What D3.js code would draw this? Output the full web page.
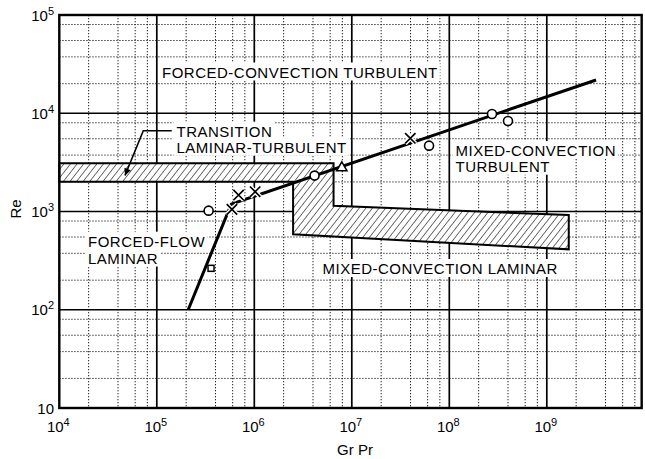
<!DOCTYPE html>
<html>
<head>
<meta charset="utf-8">
<script src="https://cdn.jsdelivr.net/npm/d3@7"></script>
<style>
  html, body { margin: 0; padding: 0; background: #fff; }
  svg { display: block; }
  text { font-family: "Liberation Sans", Arial, Helvetica, sans-serif; fill: #000; }
</style>
</head>
<body>
<svg id="chart" width="645" height="459"></svg>
<script>
// Flow-regime map for vertical tubes: Re versus Gr·Pr

// Axis decades and tick labels
const xDecades = [1e4, 1e5, 1e6, 1e7, 1e8, 1e9];
const xExponents = ["4", "5", "6", "7", "8", "9"];
const yDecades = [1e5, 1e4, 1e3, 1e2, 1e1];
const yExponents = ["5", "4", "3", "2", ""];
const xMinorSteps = [2, 4, 6, 8];
const yMinorSteps = [2, 3.75, 5.5, 8];

// Regime boundary line (Gr·Pr, Re)
const boundaryGrPr = [2.1e5, 5.8e5, 3.2e9];
const boundaryRe = [100, 1190, 21800];

// Experimental points
const circleGrPr = [3.4e5, 4.15e6, 6.2e7, 2.74e8, 4.0e8];
const circleRe = [1020, 2320, 4680, 9820, 8340];
const crossGrPr = [5.9e5, 6.9e5, 1.02e6, 3.98e7];
const crossRe = [1050, 1470, 1590, 5560];
const triangleGrPr = [7.9e6];
const triangleRe = [2820];
const squareGrPr = [3.6e5];
const squareRe = [264];

// Hatched zones: laminar–turbulent transition band joined to the mixed-convection laminar zone
const hatchGrPr = [1e4, 6.5e6, 6.5e6, 1.68e9, 1.68e9, 2.5e6, 2.5e6, 1e4];
const hatchRe = [3100, 3100, 1146, 920, 412, 586, 2010, 2010];

const svg = d3.select("#chart");

const x = d3.scaleLog().domain([1e4, 1e10]).range([59.3, 644.3]);
const y = d3.scaleLog().domain([10, 1e5]).range([408, 15]);
const xEnd = 9.4e9;

const plotLeft = x(1e4), plotRight = x(xEnd), plotTop = y(1e5), plotBottom = y(10);

// Hatch pattern and arrowhead
const defs = svg.append("defs");
defs.append("pattern")
  .attr("id", "hatch")
  .attr("patternUnits", "userSpaceOnUse")
  .attr("width", 5.2).attr("height", 5.2)
  .attr("patternTransform", "rotate(38)")
  .append("line")
  .attr("x1", 0).attr("y1", -1).attr("x2", 0).attr("y2", 7)
  .attr("stroke", "#000").attr("stroke-width", 1.1);

defs.append("marker")
  .attr("id", "arrowhead")
  .attr("viewBox", "0 0 10 10")
  .attr("refX", 10).attr("refY", 5)
  .attr("markerWidth", 11).attr("markerHeight", 7)
  .attr("markerUnits", "userSpaceOnUse")
  .attr("orient", "auto")
  .append("path")
  .attr("d", "M0,0 L10,5 L0,10 Z")
  .attr("fill", "#000");

// Minor grid (dotted)
const grid = svg.append("g");
const xMinor = [];
xDecades.forEach(d => xMinorSteps.forEach(s => { if (d * s < xEnd) xMinor.push(d * s); }));
const yMinor = [];
yDecades.slice(1).forEach(d => yMinorSteps.forEach(s => yMinor.push(d * s)));

grid.selectAll("line.xminor").data(xMinor).join("line")
  .attr("class", "xminor")
  .attr("x1", d => x(d)).attr("x2", d => x(d))
  .attr("y1", plotTop).attr("y2", plotBottom)
  .attr("stroke", "#222").attr("stroke-width", 1)
  .attr("stroke-dasharray", "1.3,1.7");
grid.selectAll("line.yminor").data(yMinor).join("line")
  .attr("class", "yminor")
  .attr("x1", plotLeft).attr("x2", plotRight)
  .attr("y1", d => y(d)).attr("y2", d => y(d))
  .attr("stroke", "#222").attr("stroke-width", 1)
  .attr("stroke-dasharray", "1.3,1.7");

// Major grid (solid)
grid.selectAll("line.xmajor").data(xDecades.slice(1)).join("line")
  .attr("class", "xmajor")
  .attr("x1", d => x(d)).attr("x2", d => x(d))
  .attr("y1", plotTop).attr("y2", plotBottom)
  .attr("stroke", "#000").attr("stroke-width", 1.7);
grid.selectAll("line.ymajor").data(yDecades.slice(1, 4)).join("line")
  .attr("class", "ymajor")
  .attr("x1", plotLeft).attr("x2", plotRight)
  .attr("y1", d => y(d)).attr("y2", d => y(d))
  .attr("stroke", "#000").attr("stroke-width", 1.7);

// Regime annotations sit on white boxes that mask the grid behind them
const ann = svg.append("g").attr("font-size", 15).attr("letter-spacing", 0.5);
[
  [162, 77.5, "FORCED-CONVECTION TURBULENT"],
  [176.5, 136.7, "TRANSITION"],
  [176.5, 152.7, "LAMINAR-TURBULENT"],
  [455.5, 156, "MIXED-CONVECTION"],
  [455.5, 171.7, "TURBULENT"],
  [88, 246.7, "FORCED-FLOW"],
  [88, 263.5, "LAMINAR"],
  [322.5, 274, "MIXED-CONVECTION LAMINAR"]
].forEach(([tx, ty, s]) => {
  const t = ann.append("text").attr("x", tx).attr("y", ty).text(s);
  const b = t.node().getBBox();
  ann.insert("rect", "text")
    .attr("x", b.x - 3).attr("y", b.y - 1)
    .attr("width", b.width + 5).attr("height", b.height + 1)
    .attr("fill", "#fff");
});

// Hatched regime zones
const hatchPts = hatchGrPr.map((g, i) => [x(g), y(hatchRe[i])]);
svg.append("path")
  .attr("d", d3.line()(hatchPts) + "Z")
  .attr("fill", "#fff");
svg.append("path")
  .attr("d", d3.line()(hatchPts) + "Z")
  .attr("fill", "url(#hatch)")
  .attr("stroke", "#000").attr("stroke-width", 2)
  .attr("stroke-linejoin", "miter");

// Frame
svg.append("rect")
  .attr("x", plotLeft).attr("y", plotTop)
  .attr("width", plotRight - plotLeft).attr("height", plotBottom - plotTop)
  .attr("fill", "none").attr("stroke", "#000").attr("stroke-width", 2.4);

// Axis tick labels
const xl = svg.append("g").attr("font-size", 15);
xDecades.forEach((d, i) => {
  const t = xl.append("text").attr("x", x(d) - 1).attr("y", 432).attr("text-anchor", "middle");
  t.append("tspan").text("10");
  t.append("tspan").attr("dy", -6).attr("font-size", 11).text(xExponents[i]);
});
const yl = svg.append("g").attr("font-size", 15);
yDecades.forEach((d, i) => {
  const t = yl.append("text").attr("x", 54).attr("y", y(d) + 5.5).attr("text-anchor", "end");
  t.append("tspan").text("10");
  if (yExponents[i]) t.append("tspan").attr("dy", -6).attr("font-size", 11).text(yExponents[i]);
});

svg.append("text").attr("x", 355).attr("y", 455).attr("text-anchor", "middle")
  .attr("font-size", 15).text("Gr Pr");
svg.append("text")
  .attr("transform", "translate(21,209) rotate(-90)")
  .attr("text-anchor", "middle").attr("font-size", 15).text("Re");

// Regime boundary
svg.append("path")
  .attr("d", d3.line().x((d, i) => x(boundaryGrPr[i])).y((d, i) => y(boundaryRe[i]))(boundaryGrPr))
  .attr("fill", "none").attr("stroke", "#000").attr("stroke-width", 3)
  .attr("stroke-linejoin", "miter");

// Data markers
const pts = svg.append("g");
pts.selectAll("circle").data(circleGrPr).join("circle")
  .attr("cx", d => x(d)).attr("cy", (d, i) => y(circleRe[i]))
  .attr("r", 4.5).attr("fill", "#fff").attr("stroke", "#000").attr("stroke-width", 1.6);

const crossPath = s => `M${-s},${-s}L${s},${s}M${-s},${s}L${s},${-s}`;
const crosses = pts.selectAll("g.cross").data(crossGrPr).join("g")
  .attr("class", "cross")
  .attr("transform", (d, i) => `translate(${x(d)},${y(crossRe[i])})`);
crosses.append("path").attr("d", crossPath(5.2)).attr("stroke", "#fff").attr("stroke-width", 4.5);
crosses.append("path").attr("d", crossPath(5.2)).attr("stroke", "#000").attr("stroke-width", 1.7);

pts.selectAll("path.tri").data(triangleGrPr).join("path")
  .attr("class", "tri")
  .attr("d", "M0,-5.5L5.2,3.6L-5.2,3.6Z")
  .attr("transform", (d, i) => `translate(${x(d)},${y(triangleRe[i])})`)
  .attr("fill", "#fff").attr("stroke", "#000").attr("stroke-width", 1.5);

pts.selectAll("rect.sq").data(squareGrPr).join("rect")
  .attr("class", "sq")
  .attr("x", d => x(d) - 3).attr("y", (d, i) => y(squareRe[i]) - 3)
  .attr("width", 6).attr("height", 6)
  .attr("fill", "#fff").attr("stroke", "#000").attr("stroke-width", 1.5);

// Leader arrow to the transition band
svg.append("path")
  .attr("d", "M171.7,130.7L143.3,130.7L125,175.5")
  .attr("fill", "none").attr("stroke", "#000").attr("stroke-width", 1.6)
  .attr("marker-end", "url(#arrowhead)");
</script>
</body>
</html>
